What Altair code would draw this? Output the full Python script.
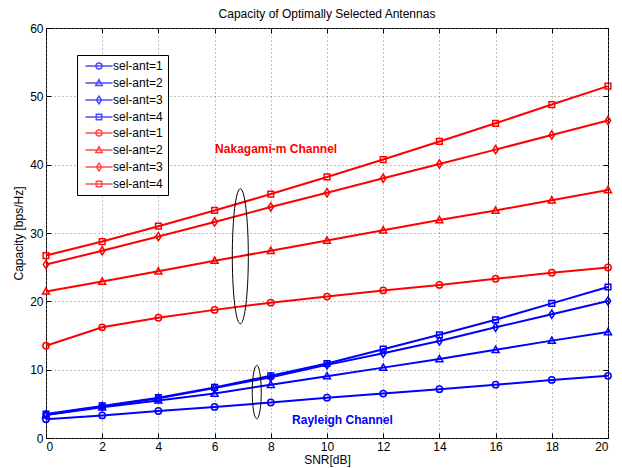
import altair as alt
import pandas as pd
import numpy as np

# ---------------- data ----------------
snr = [0, 2, 4, 6, 8, 10, 12, 14, 16, 18, 20]

ray_1 = [2.75, 3.3, 3.95, 4.55, 5.2, 5.9, 6.5, 7.15, 7.8, 8.5, 9.1]
ray_2 = [3.35, 4.5, 5.5, 6.5, 7.8, 9.05, 10.3, 11.55, 12.9, 14.25, 15.5]
ray_3 = [3.4, 4.6, 5.8, 7.3, 8.9, 10.7, 12.4, 14.2, 16.2, 18.1, 20.05]
ray_4 = [3.5, 4.7, 5.9, 7.4, 9.1, 10.9, 13.0, 15.1, 17.3, 19.7, 22.1]

nak_1 = [13.5, 16.2, 17.6, 18.75, 19.8, 20.7, 21.6, 22.4, 23.3, 24.2, 24.95]
nak_2 = [21.45, 22.9, 24.4, 25.95, 27.4, 28.9, 30.4, 31.9, 33.3, 34.8, 36.3]
nak_3 = [25.4, 27.4, 29.5, 31.6, 33.8, 35.9, 38.0, 40.1, 42.2, 44.35, 46.45]
nak_4 = [26.7, 28.75, 31.0, 33.3, 35.7, 38.2, 40.75, 43.4, 46.05, 48.8, 51.5]

series_keys = ["R1", "R2", "R3", "R4", "N1", "N2", "N3", "N4"]
series_vals = [ray_1, ray_2, ray_3, ray_4, nak_1, nak_2, nak_3, nak_4]
series_colors = ["#0000ff"] * 4 + ["#ff0000"] * 4

x_ticks = [0, 2, 4, 6, 8, 10, 12, 14, 16, 18, 20]
y_ticks = [0, 10, 20, 30, 40, 50, 60]

annot_text = ["Nakagami-m Channel", "Rayleigh Channel"]
annot_color = ["#ff0000", "#0000ff"]

# ------------- tables -------------
rows = []
for k, vals in zip(series_keys, series_vals):
    for s, v in zip(snr, vals):
        rows.append({"snr": s, "cap": v, "series": k})
df = pd.DataFrame(rows)

# marker shapes (plot) and legend shapes (line + marker)
circle = "M-1,0A1,1,0,1,0,1,0A1,1,0,1,0,-1,0Z"
tri = "M0,-1.15L1.1,0.85L-1.1,0.85Z"
dia = "M0,-1.3L0.85,0L0,1.3L-0.85,0Z"
sq = "M-0.9,-0.9L0.9,-0.9L0.9,0.9L-0.9,0.9Z"
marker_shapes = [circle, tri, dia, sq] * 2
seg = "M-4.5,0L4.5,0"
legend_shapes = [seg + m for m in marker_shapes]

# ellipse annotations (annotation geometry in data units)
t = np.linspace(0, 2 * np.pi, 73)
ell_rows = []
for eid, (cx, cy, rx, ry) in enumerate([(6.915, 26.6, 0.285, 9.88), (7.5, 6.72, 0.16, 3.9)]):
    for i, tt in enumerate(t):
        ell_rows.append({"e": eid, "o": i, "x": cx + rx * np.cos(tt), "y": cy + ry * np.sin(tt)})
ell = pd.DataFrame(ell_rows)

annot = pd.DataFrame({"text": annot_text, "x": [8.19, 10.55], "y": [42.24, 2.58], "c": annot_color})

FONT = "Liberation Sans"
xs = alt.Scale(domain=[0, 20], nice=False, zero=False)
ys = alt.Scale(domain=[0, 60], nice=False, zero=False)
color_scale = alt.Scale(domain=series_keys, range=series_colors)

base = alt.Chart(df)

lines = base.mark_line(strokeWidth=2).encode(
    x=alt.X("snr:Q", scale=xs, axis=alt.Axis(
        orient="bottom", values=x_ticks, offset=-5, tickSize=5, domain=False,
        labelPadding=3, grid=True, gridDash=[1, 3], gridColor="#7f7f7f",
        title="SNR[dB]", titlePadding=2, tickColor="black")),
    y=alt.Y("cap:Q", scale=ys, axis=alt.Axis(
        orient="left", values=y_ticks, offset=-5, tickSize=5, domain=False,
        labelPadding=3, grid=True, gridDash=[1, 3], gridColor="#7f7f7f",
        title="Capacity [bps/Hz]", titlePadding=4, tickColor="black")),
    color=alt.Color("series:N", scale=color_scale, legend=None),
    detail="series:N",
)

points = base.mark_point(filled=False, size=40, strokeWidth=1.5, opacity=1).encode(
    x=alt.X("snr:Q", scale=xs, axis=None),
    y=alt.Y("cap:Q", scale=ys, axis=None),
    color=alt.Color("series:N", scale=color_scale, legend=None),
    shape=alt.Shape("series:N", scale=alt.Scale(domain=series_keys, range=marker_shapes), legend=None),
)

leg = dict(
    title=None, orient="none", legendX=31, legendY=27,
    fillColor="white", strokeColor="black", padding=5,
    symbolSize=36, symbolOffset=11, labelOffset=8, rowPadding=4,
    symbolStrokeWidth=1.5, labelFontSize=12, labelFont=FONT, labelColor="black",
    labelExpr="'sel-ant=' + substring(datum.label, 1)",
)

legend_layer = base.transform_filter("false").mark_point(filled=False, size=36, strokeWidth=1.5).encode(
    x=alt.X("snr:Q", scale=xs, axis=None),
    y=alt.Y("cap:Q", scale=ys, axis=None),
    color=alt.Color("series:N", scale=color_scale, legend=alt.Legend(**leg)),
    shape=alt.Shape("series:N", scale=alt.Scale(domain=series_keys, range=legend_shapes),
                    legend=alt.Legend(**leg)),
)

ticks2 = base.mark_point(opacity=0).encode(
    x=alt.X("snr:Q", scale=xs, axis=alt.Axis(
        orient="top", values=x_ticks, offset=-5, tickSize=5, domain=False,
        labels=False, grid=False, title=None, tickColor="black")),
    y=alt.Y("cap:Q", scale=ys, axis=alt.Axis(
        orient="right", values=y_ticks, offset=-5, tickSize=5, domain=False,
        labels=False, grid=False, title=None, tickColor="black")),
)

ellipses = alt.Chart(ell).mark_line(color="black", strokeWidth=1).encode(
    x=alt.X("x:Q", scale=xs, axis=None),
    y=alt.Y("y:Q", scale=ys, axis=None),
    detail="e:N",
    order="o:Q",
)

texts = alt.Chart(annot).mark_text(fontSize=12, fontWeight="bold", font=FONT).encode(
    x=alt.X("x:Q", scale=xs, axis=None),
    y=alt.Y("y:Q", scale=ys, axis=None),
    text="text:N",
    color=alt.Color("c:N", scale=None),
)

chart = alt.layer(lines, ticks2, ellipses, texts, points, legend_layer).resolve_axis(
    x="independent", y="independent"
).resolve_scale(
    shape="independent", color="independent"
).properties(
    width=562, height=410,
    background="white",
    title=alt.TitleParams("Capacity of Optimally Selected Antennas", fontSize=12,
                          fontWeight="normal", font=FONT, offset=1, color="black"),
    autosize=alt.AutoSizeParams(type="none"),
    padding={"left": 38, "top": 20, "right": 6, "bottom": 30},
).configure_view(
    stroke="black", strokeWidth=1
).configure_axis(
    labelFont=FONT, titleFont=FONT, labelFontSize=12, titleFontSize=12,
    titleFontWeight="normal", labelColor="black", titleColor="black", tickWidth=1
)

chart.save("out.html", embed_options={"renderer": "svg", "actions": False})
